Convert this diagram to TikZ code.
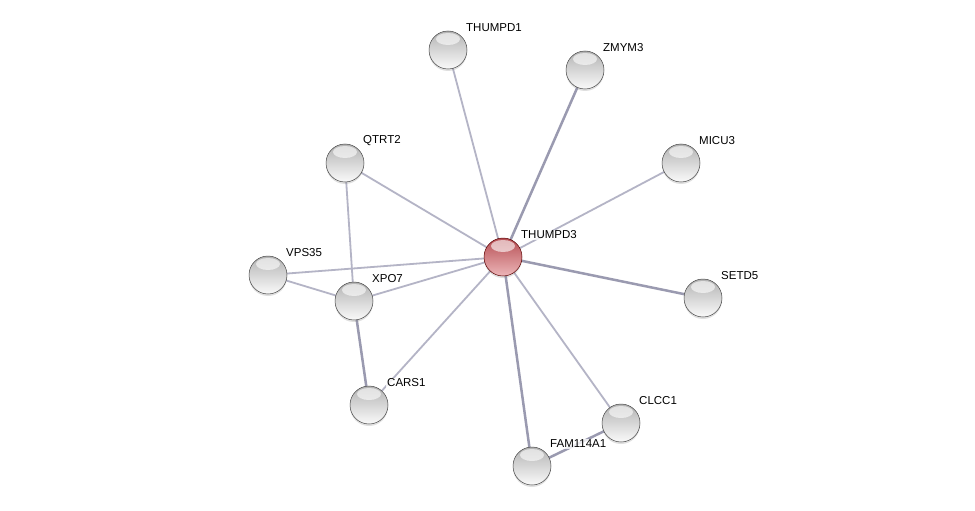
\documentclass[tikz,border=0pt]{standalone}
\usepackage{fontspec}
\setmainfont{Liberation Sans}
\usetikzlibrary{positioning,backgrounds,shadows}
\definecolor{edgelight}{RGB}{180,180,198}
\definecolor{edgedark}{RGB}{154,154,176}
\definecolor{ballred}{RGB}{214,92,98}
\tikzset{
  protein/.style={circle, minimum size=38, inner sep=0pt, draw=gray!55!black, line width=0.5,
    top color=gray!60, bottom color=gray!4, shading angle=0,
    drop shadow={shadow xshift=0pt, shadow yshift=-2pt, opacity=0.25},
    path picture={\fill[white, opacity=0.6] ([yshift=-8]path picture bounding box.north) ellipse (12 and 6);}},
  query/.style={protein, draw=red!35!black, top color=ballred!85!black, bottom color=ballred!45},
  lbl/.style={anchor=west, inner sep=1pt, fill=white, fill opacity=0.8, text opacity=1,
    font=\fontsize{11.5}{13}\selectfont},
  thin/.style={draw=edgelight, line width=1.8},
  thick/.style={draw=edgedark, line width=2.5},
}
\begin{document}
\begin{tikzpicture}[x=1pt,y=-1pt]
    \useasboundingbox (0,0) rectangle (975,511);
    %% proteins
    \node[query] (thumpd3) at (503,257) {};
    \node[protein] (thumpd1) at (448,50) {};
    \node[protein] (zmym3) at (585,70) {};
    \node[protein] (micu3) at (681,163) {};
    \node[protein] (qtrt2) at (345,163) {};
    \node[protein] (vps35) at (268,275) {};
    \node[protein] (xpo7) at (354,301) {};
    \node[protein] (setd5) at (703,298) {};
    \node[protein] (cars1) at (369,405) {};
    \node[protein] (clcc1) at (621,423) {};
    \node[protein] (fam114a1) at (532,466) {};
    %% names
    \node[lbl] (l-thumpd3) at ([shift={(17,-22)}]thumpd3.center) {THUMPD3};
    \node[lbl] (l-thumpd1) at ([shift={(17,-22)}]thumpd1.center) {THUMPD1};
    \node[lbl] (l-zmym3) at ([shift={(17,-22)}]zmym3.center) {ZMYM3};
    \node[lbl] (l-micu3) at ([shift={(17,-22)}]micu3.center) {MICU3};
    \node[lbl] (l-qtrt2) at ([shift={(17,-22)}]qtrt2.center) {QTRT2};
    \node[lbl] (l-vps35) at ([shift={(17,-22)}]vps35.center) {VPS35};
    \node[lbl] (l-xpo7) at ([shift={(17,-22)}]xpo7.center) {XPO7};
    \node[lbl] (l-setd5) at ([shift={(17,-22)}]setd5.center) {SETD5};
    \node[lbl] (l-cars1) at ([shift={(17,-22)}]cars1.center) {CARS1};
    \node[lbl] (l-clcc1) at ([shift={(17,-22)}]clcc1.center) {CLCC1};
    \node[lbl] (l-fam114a1) at ([shift={(17,-22)}]fam114a1.center) {FAM114A1};
    %% interactions
    \begin{pgfonlayer}{background}
    \fill[white] (0,0) rectangle (975,511);
    \draw[thin] (thumpd3.center) -- (thumpd1.center);
    \draw[thick] (thumpd3.center) -- (zmym3.center);
    \draw[thin] (thumpd3.center) -- (micu3.center);
    \draw[thin] (thumpd3.center) -- (qtrt2.center);
    \draw[thin] (thumpd3.center) -- (vps35.center);
    \draw[thin] (thumpd3.center) -- (xpo7.center);
    \draw[thick] (thumpd3.center) -- (setd5.center);
    \draw[thin] (thumpd3.center) -- (cars1.center);
    \draw[thin] (thumpd3.center) -- (clcc1.center);
    \draw[thick] (thumpd3.center) -- (fam114a1.center);
    %
    \draw[thin] (qtrt2.center) -- (xpo7.center);
    \draw[thin] (vps35.center) -- (xpo7.center);
    \draw[thick] (xpo7.center) -- (cars1.center);
    \draw[thick] (clcc1.center) -- (fam114a1.center);
    \end{pgfonlayer}
\end{tikzpicture}
\end{document}
